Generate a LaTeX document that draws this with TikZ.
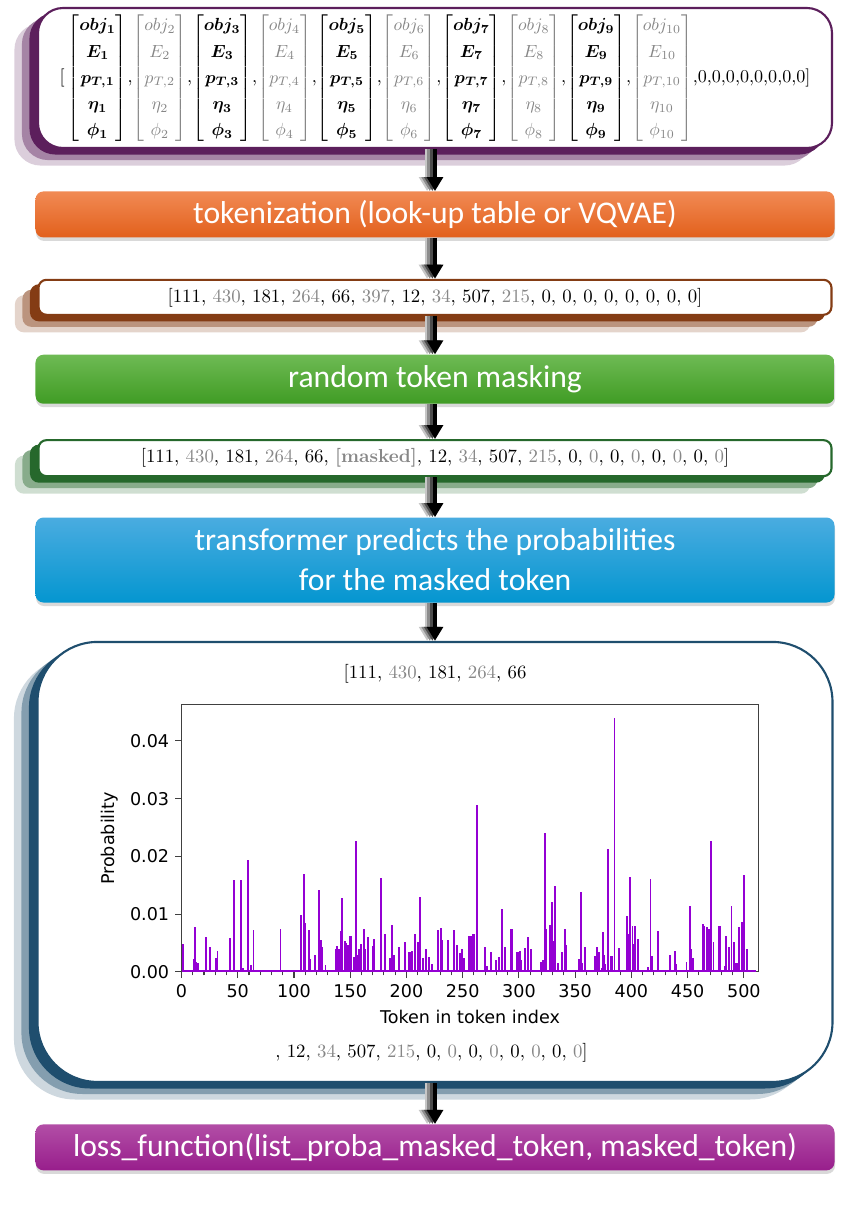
\documentclass[tikz,border=0pt]{standalone}
\usepackage{fontspec}
\usepackage{amsmath}
\usepackage{xcolor}
\usepackage{pgfplots}
\usetikzlibrary{arrows.meta, positioning, shadows, calc}
\pgfplotsset{compat=1.18}

\newfontfamily\boxfont{Carlito}
\newfontfamily\plotfont{DejaVu Sans}

\definecolor{objpurple}{RGB}{92,31,92}
\definecolor{rowbrown}{RGB}{132,60,20}
\definecolor{rowgreen}{RGB}{38,104,44}
\definecolor{probnavy}{RGB}{31,78,110}
\definecolor{tokgray}{RGB}{135,135,135}
\definecolor{barviolet}{RGB}{148,0,211}
\definecolor{orangetop}{RGB}{241,138,84}
\definecolor{orangebot}{RGB}{226,96,28}
\definecolor{greentop}{RGB}{110,186,84}
\definecolor{greenbot}{RGB}{64,156,36}
\definecolor{bluetop}{RGB}{74,172,224}
\definecolor{bluebot}{RGB}{4,150,208}
\definecolor{purpletop}{RGB}{178,78,166}
\definecolor{purplebot}{RGB}{152,30,140}

\renewcommand{\arraystretch}{1.2}
\newcommand{\gr}[1]{\textcolor{tokgray}{#1}}
\newcommand{\objvec}[1]{\begin{bmatrix} obj_{#1}\\ E_{#1}\\ p_{T,#1}\\ \eta_{#1}\\ \phi_{#1} \end{bmatrix}}
\newcommand{\objon}[1]{\mbox{\mathversion{bold}$\objvec{#1}$}}
\newcommand{\objoff}[1]{\textcolor{tokgray}{$\objvec{#1}$}}

\begin{document}
\begin{tikzpicture}[
    node distance=0.8cm,
    layered/.style={rectangle, draw=#1, line width=1.2pt, fill=white,
        copy shadow={shadow xshift=-0.45cm, shadow yshift=-0.33cm, draw=#1!22, fill=#1!22},
        copy shadow={shadow xshift=-0.3cm, shadow yshift=-0.22cm, draw=#1!55, fill=#1!55},
        copy shadow={shadow xshift=-0.15cm, shadow yshift=-0.11cm, draw=#1, fill=#1}},
    stage/.style={rectangle, rounded corners=0.16cm, minimum width=15.98cm, minimum height=0.92cm,
        text=white, align=center, font=\boxfont\fontsize{18}{22.7}\selectfont,
        drop shadow={shadow xshift=0.3pt, shadow yshift=-2pt, opacity=0.3}},
    tokrow/.style={layered=#1, rounded corners=0.16cm, minimum width=15.86cm, minimum height=0.7cm,
        font=\fontsize{10.7}{13}\selectfont},
    flow/.style={-{Triangle[width=9pt,length=8pt]}, line width=2.8pt}
]
\useasboundingbox (0,0) rectangle (16.9,-24.32);

\node (top) [layered=objpurple, rounded corners=0.5cm, minimum width=15.88cm, minimum height=2.8cm,
    inner sep=1pt, font=\fontsize{10.3}{12.4}\selectfont] at (8.7,-1.56)
    {[\,\objon{1},\objoff{2},\objon{3},\objoff{4},\objon{5},\objoff{6},\objon{7},\objoff{8},\objon{9},\objoff{10},0,0,0,0,0,0,0,0]};
\node (tok) [stage, top color=orangetop, bottom color=orangebot, below=0.84cm of top] {tokenization (look-up table or VQVAE)};
\node (tokrow) [tokrow=rowbrown, below=0.82cm of tok]
    {[111, \gr{430}, 181, \gr{264}, 66, \gr{397}, 12, \gr{34}, 507, \gr{215}, 0, 0, 0, 0, 0, 0, 0, 0]};
\node (mask) [stage, top color=greentop, bottom color=greenbot, minimum height=0.98cm, below=0.77cm of tokrow] {random token masking};
\node (maskrow) [tokrow=rowgreen, minimum height=0.72cm, below=0.7cm of mask]
    {[111, \gr{430}, 181, \gr{264}, 66, \gr{\textbf{[masked]}}, 12, \gr{34}, 507, \gr{215}, 0, \gr{0}, 0, \gr{0}, 0, \gr{0}, 0, \gr{0}]};
\node (pred) [stage, top color=bluetop, bottom color=bluebot, minimum height=1.7cm, below=0.8cm of maskrow]
    {transformer predicts the probabilities\\for the masked token};
\node (probbox) [layered=probnavy, rounded corners=1.2cm, minimum width=15.9cm, minimum height=8.8cm, below=0.76cm of pred] {};
\node (head) [font=\fontsize{10.7}{13}\selectfont] at ($(probbox.north)+(0,-0.66)$) {[111, \gr{430}, 181, \gr{264}, 66};
\node (tail) [font=\fontsize{10.7}{13}\selectfont] at ($(probbox.south)+(-0.07,0.6)$)
    {, 12, \gr{34}, 507, \gr{215}, 0, \gr{0}, 0, \gr{0}, 0, \gr{0}, 0, \gr{0}]};
\node (loss) [stage, top color=purpletop, bottom color=purplebot, below=0.82cm of probbox]
    {loss\_function(list\_proba\_masked\_token, masked\_token)};

% probabilities of the masked token
\begin{axis}[
    at={($(probbox.center)+(-5.07cm,-2.2cm)$)}, anchor=south west,
    width=11.54cm, height=5.34cm, scale only axis,
    xmin=0, xmax=513, ymin=0, ymax=0.04623,
    xtick={0,50,...,500}, ytick={0,0.01,0.02,0.03,0.04},
    minor x tick num=4,
    tick pos=left, tick align=outside,
    major tick length=3.5pt, minor tick length=2pt,
    scaled y ticks=false,
    xticklabel={\pgfmathprintnumber[assume math mode=true]{\tick}},
    yticklabel={\pgfmathprintnumber[assume math mode=true, fixed, fixed zerofill, precision=2]{\tick}},
    ticklabel style={font=\plotfont\fontsize{10}{12}\selectfont},
    label style={font=\plotfont\fontsize{10}{12}\selectfont},
    xlabel={Token in token index}, ylabel={Probability},
    axis line style={black!75, line width=0.6pt},
    every tick/.style={black!75, line width=0.6pt}
]
\addplot[barviolet, line width=0.7pt] coordinates {(1,0.00015) (511,0.00015)};
\addplot[ycomb, barviolet, line width=1.1pt, mark=none] coordinates {
    (1,0.0048) (11,0.0022) (12,0.0078) (13,0.0017) (14,0.0016) (15,0.0015) (22,0.0060) (25,0.0043)
    (31,0.0025) (32,0.0037) (43,0.0059) (47,0.0160) (53,0.0159) (55,0.0007) (59,0.0194) (62,0.0012)
    (64,0.0072) (88,0.0075) (106,0.0099) (109,0.0169) (110,0.0085) (113,0.0072) (114,0.0022)
    (119,0.0030) (122,0.0142) (124,0.0056) (125,0.0044) (128,0.0012) (137,0.0039) (138,0.0045)
    (140,0.0040) (142,0.0071) (143,0.0128) (145,0.0053) (146,0.0050) (148,0.0047) (149,0.0047)
    (150,0.0063) (151,0.0063) (153,0.0026) (155,0.0227) (156,0.0030) (158,0.0039) (160,0.0048)
    (162,0.0075) (163,0.0039) (166,0.0060) (170,0.0045) (171,0.0057) (177,0.0163) (181,0.0066)
    (185,0.0025) (187,0.0082) (189,0.0030) (193,0.0044) (199,0.0052) (202,0.0034) (204,0.0035)
    (205,0.0036) (208,0.0066) (210,0.0052) (212,0.0129) (215,0.0024) (217,0.0039) (220,0.0026)
    (223,0.0014) (228,0.0072) (231,0.0076) (232,0.0056) (237,0.0056) (242,0.0072) (245,0.0047)
    (248,0.0032) (249,0.0040) (251,0.0025) (256,0.0063) (257,0.0063) (259,0.0066) (260,0.0066)
    (263,0.0289) (270,0.0043) (272,0.0011) (275,0.0034) (280,0.0020) (282,0.0026) (285,0.0109)
    (288,0.0044) (293,0.0075) (294,0.0075) (298,0.0034) (300,0.0035) (301,0.0036) (302,0.0020)
    (305,0.0041) (308,0.0061) (311,0.0040) (320,0.0017) (321,0.0020) (323,0.0241) (324,0.0074)
    (328,0.0081) (329,0.0121) (331,0.0053) (332,0.0148) (335,0.0015) (338,0.0035) (341,0.0074)
    (342,0.0047) (353,0.0022) (355,0.0139) (356,0.0016) (359,0.0043) (368,0.0027) (369,0.0044)
    (371,0.0034) (374,0.0007) (375,0.0069) (376,0.0029) (377,0.0014) (379,0.0213) (382,0.0028)
    (383,0.0028) (385,0.0440) (389,0.0041) (396,0.0097) (398,0.0066) (399,0.0164) (401,0.0079)
    (402,0.0049) (403,0.0079) (406,0.0057) (415,0.0009) (417,0.0161) (418,0.0027) (424,0.0071)
    (434,0.0030) (439,0.0037) (440,0.0014) (449,0.0017) (452,0.0115) (453,0.0039) (455,0.0024)
    (464,0.0083) (465,0.0079) (467,0.0078) (469,0.0075) (471,0.0226) (473,0.0052) (478,0.0079)
    (479,0.0079) (483,0.0011) (484,0.0062) (487,0.0043) (489,0.0115) (491,0.0052) (493,0.0016)
    (495,0.0016) (496,0.0077) (498,0.0086) (499,0.0014) (500,0.0167) (503,0.0039)};
\end{axis}

% arrows with their trail
\foreach \from/\to in {top/tok, tok/tokrow, tokrow/mask, mask/maskrow, maskrow/pred, pred/probbox, probbox/loss} {
    \draw[flow, black!22, transform canvas={xshift=-4.5pt}] (\from) -- (\to);
    \draw[flow, black!45, transform canvas={xshift=-3pt}] (\from) -- (\to);
    \draw[flow, black!70, transform canvas={xshift=-1.5pt}] (\from) -- (\to);
    \draw[flow] (\from) -- (\to);
}

\end{tikzpicture}
\end{document}
